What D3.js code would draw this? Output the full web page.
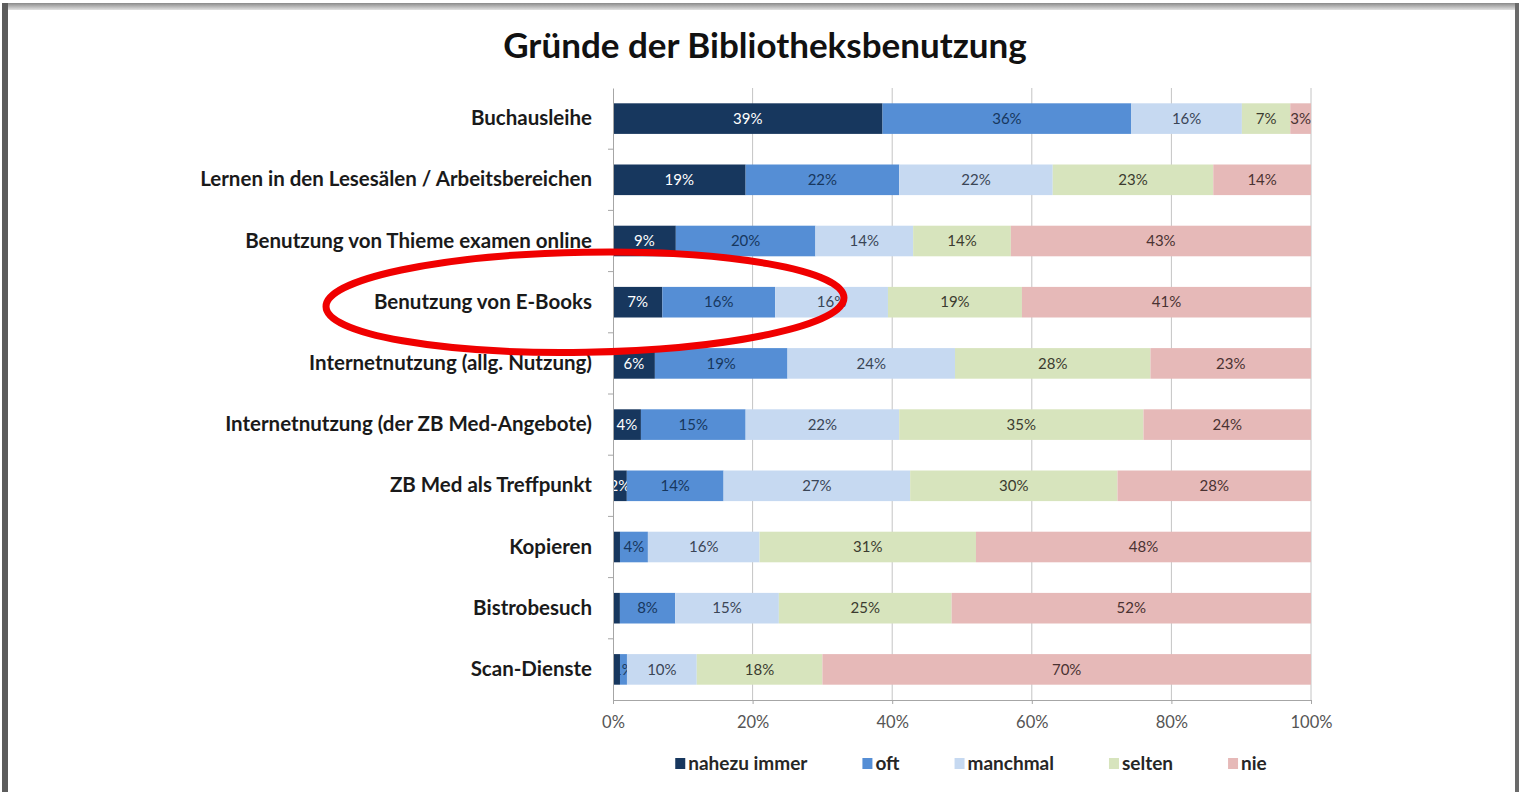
<!DOCTYPE html>
<html>
<head>
<meta charset="utf-8">
<script src="https://cdn.jsdelivr.net/npm/d3@7"></script>
<style>
    body { margin: 0; background: #fff; }
    svg text { font-family: Lato, "Open Sans", sans-serif; }
</style>
</head>
<body>
<div id="chart"></div>
<script>
// categories top to bottom
let categories = [
    "Buchausleihe",
    "Lernen in den Lesesälen / Arbeitsbereichen",
    "Benutzung von Thieme examen online",
    "Benutzung von E-Books",
    "Internetnutzung (allg. Nutzung)",
    "Internetnutzung (der ZB Med-Angebote)",
    "ZB Med als Treffpunkt",
    "Kopieren",
    "Bistrobesuch",
    "Scan-Dienste"
];

let seriesNames = ["nahezu immer", "oft", "manchmal", "selten", "nie"];

// percent values per category, one array per series
let nahezuImmer = [39, 19, 9, 7, 6, 4, 2, 1, 1, 1];
let oft         = [36, 22, 20, 16, 19, 15, 14, 4, 8, 1];
let manchmal    = [16, 22, 14, 16, 24, 22, 27, 16, 15, 10];
let selten      = [7, 23, 14, 19, 28, 35, 30, 31, 25, 18];
let nie         = [3, 14, 43, 41, 23, 24, 28, 48, 52, 70];

let xTicks = [0, 0.2, 0.4, 0.6, 0.8, 1];

// labels that are not printed in the original (row index, series)
let hiddenLabels = [[7, "nahezu immer"], [8, "nahezu immer"], [9, "nahezu immer"]];

let colors = ["#17375e", "#558ed5", "#c6d9f1", "#d7e4bd", "#e6b9b8"];
let labelColors = ["#ffffff", "#17375e", "#3a4556", "#3b3b2f", "#4a3232"];

let W = 1519, H = 792;
let margin = {top: 88, right: 208, bottom: 92, left: 613};

let svg = d3.select("#chart").append("svg")
    .attr("width", W)
    .attr("height", H);

// page frame (scanned document edges)
let defs = svg.append("defs");
let grad = defs.append("linearGradient")
    .attr("id", "topEdge")
    .attr("x1", 0).attr("y1", 0).attr("x2", 0).attr("y2", 1);
grad.append("stop").attr("offset", "0%").attr("stop-color", "#8a8a8a");
grad.append("stop").attr("offset", "100%").attr("stop-color", "#e2e2e2");

svg.append("rect").attr("x", 2).attr("y", 3).attr("width", 1513).attr("height", 7).attr("fill", "url(#topEdge)");
svg.append("rect").attr("x", 2).attr("y", 3).attr("width", 6).attr("height", H - 3).attr("fill", "#5c5c5c");
svg.append("rect").attr("x", 1515).attr("y", 3).attr("width", 4).attr("height", H - 3).attr("fill", "#6a6a6a");

// title
svg.append("text")
    .attr("x", 765)
    .attr("y", 58)
    .attr("text-anchor", "middle")
    .style("font-size", "35px")
    .style("font-weight", "bold")
    .attr("fill", "#111")
    .text("Gründe der Bibliotheksbenutzung");

let width = W - margin.left - margin.right;
let height = H - margin.top - margin.bottom;

let g = svg.append("g")
    .attr("transform", `translate(${margin.left},${margin.top})`);

// scales
let x = d3.scaleLinear()
    .domain([0, 1])
    .range([0, width]);

let y = d3.scaleBand()
    .domain(categories)
    .range([0, height])
    .paddingInner(0.5)
    .paddingOuter(0.25);

let color = d3.scaleOrdinal().domain(seriesNames).range(colors);
let labelColor = d3.scaleOrdinal().domain(seriesNames).range(labelColors);

// table for the stack
let seriesValues = [nahezuImmer, oft, manchmal, selten, nie];
let rows = categories.map((c, i) => {
    let row = {category: c, index: i};
    seriesNames.forEach((s, j) => row[s] = seriesValues[j][i]);
    return row;
});

let stack = d3.stack()
    .keys(seriesNames)
    .offset(d3.stackOffsetExpand);
let stacked = stack(rows);

// gridlines
g.append("g")
    .attr("class", "grid")
    .selectAll("line")
    .data(xTicks.slice(1))
    .enter()
    .append("line")
    .attr("x1", d => x(d))
    .attr("x2", d => x(d))
    .attr("y1", 0)
    .attr("y2", height)
    .attr("stroke", "#c4c4c4")
    .attr("stroke-width", 1);

// bars
let layers = g.selectAll(".layer")
    .data(stacked)
    .enter()
    .append("g")
    .attr("class", "layer")
    .attr("fill", d => color(d.key));

layers.selectAll("rect")
    .data(d => d)
    .enter()
    .append("rect")
    .attr("x", d => x(d[0]))
    .attr("y", d => y(d.data.category))
    .attr("width", d => x(d[1]) - x(d[0]))
    .attr("height", y.bandwidth());

// value labels
let isHidden = (i, key) => hiddenLabels.some(h => h[0] === i && h[1] === key);

layers.each(function(layer) {
    d3.select(this).selectAll("text")
        .data(layer.filter(d => !isHidden(d.data.index, layer.key)))
        .enter()
        .append("text")
        .attr("x", d => x((d[0] + d[1]) / 2))
        .attr("y", d => y(d.data.category) + y.bandwidth() / 2)
        .attr("dy", "0.35em")
        .attr("text-anchor", "middle")
        .style("font-size", "15px")
        .attr("fill", labelColor(layer.key))
        .text(d => d.data[layer.key] + "%");
});

// axes
let xAxis = d3.axisBottom(x)
    .tickValues(xTicks)
    .tickFormat(d3.format(".0%"))
    .tickSize(4)
    .tickPadding(12);

let xAxisGroup = g.append("g")
    .attr("class", "x-axis axis")
    .attr("transform", `translate(0,${height})`)
    .call(xAxis);

xAxisGroup.select(".domain").attr("stroke", "#a6a6a6");
xAxisGroup.selectAll(".tick line").attr("stroke", "#a6a6a6");
xAxisGroup.selectAll("text")
    .style("font-size", "16.5px")
    .attr("fill", "#555");

let yAxis = d3.axisLeft(y)
    .tickSize(0)
    .tickPadding(21);

let yAxisGroup = g.append("g")
    .attr("class", "y-axis axis")
    .call(yAxis);

yAxisGroup.select(".domain").attr("stroke", "#a6a6a6");
yAxisGroup.selectAll("text")
    .style("font-size", "20.5px")
    .style("font-weight", "bold")
    .attr("fill", "#1a1a1a");

// small tick marks between the categories
g.append("g")
    .attr("class", "y-ticks")
    .selectAll("line")
    .data(categories.slice(1))
    .enter()
    .append("line")
    .attr("x1", -5)
    .attr("x2", 0)
    .attr("y1", d => y(d) - y.step() * y.paddingInner() / 2)
    .attr("y2", d => y(d) - y.step() * y.paddingInner() / 2)
    .attr("stroke", "#a6a6a6");

// legend
let legend = svg.append("g").attr("class", "legend");
let items = legend.selectAll(".legend-item")
    .data(seriesNames)
    .enter()
    .append("g")
    .attr("class", "legend-item");

items.append("rect")
    .attr("width", 10)
    .attr("height", 11)
    .attr("y", -12)
    .attr("fill", d => color(d));

items.append("text")
    .attr("x", 13)
    .style("font-size", "19px")
    .style("font-weight", "bold")
    .attr("fill", "#262626")
    .text(d => d);

let legendX = 0;
let positions = [];
items.each(function() {
    positions.push(legendX);
    legendX += 13 + d3.select(this).select("text").node().getComputedTextLength() + 55;
});
let legendWidth = legendX - 55;
let legendStart = 971 - legendWidth / 2;
items.attr("transform", (d, i) => `translate(${legendStart + positions[i]},770)`);

// red highlight ring around the E-Books row
let ringY = margin.top + y("Benutzung von E-Books") + y.bandwidth() / 2;
svg.append("ellipse")
    .attr("cx", margin.left - 28)
    .attr("cy", ringY)
    .attr("rx", 259)
    .attr("ry", 50)
    .attr("transform", `rotate(-1,${margin.left - 28},${ringY})`)
    .attr("fill", "none")
    .attr("stroke", "#f00000")
    .attr("stroke-width", 7);
</script>
</body>
</html>
